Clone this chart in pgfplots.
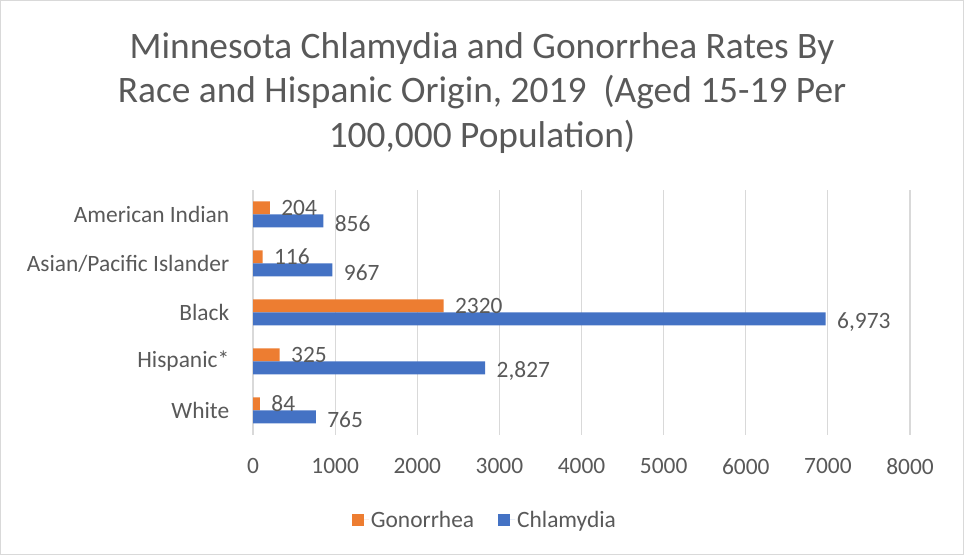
\documentclass[border=0pt]{standalone}
\usepackage{pgfplots}
\pgfplotsset{compat=1.18}
\usepackage{fontspec}
\setmainfont{Carlito}
\definecolor{txt}{HTML}{595959}
\definecolor{gon}{HTML}{ED7D31}
\definecolor{chl}{HTML}{4472C4}
\definecolor{grd}{HTML}{D9D9D9}
\begin{document}
\begin{tikzpicture}[x=1bp,y=1bp]
\path[use as bounding box] (0,0) rectangle (964,555);
\draw[grd, line width=1bp] (0.5,0.5) rectangle (963.5,554.5);
\node[text=txt, align=center, font=\fontsize{37.5}{45}\selectfont] at (482,462) {Minnesota Chlamydia and Gonorrhea Rates By\\Race and Hispanic Origin, 2019~ (Aged 15-19 Per\\100,000 Population)};
\begin{axis}[
  at={(253bp,120bp)}, anchor=south west,
  scale only axis, width=657bp, height=245bp,
  xbar, bar width=13bp,
  xmin=0, xmax=8000, ymin=-0.5, ymax=4.5,
  xtick={0,1000,...,8000},
  ytick={0,1,2,3,4},
  yticklabels={White,Hispanic*,Black,Asian/Pacific Islander,American Indian},
  xmajorgrids, grid style={grd, line width=1.2bp},
  axis line style={draw=none},
  tick style={draw=none},
  ticklabel style={text=txt, font=\fontsize{23.5}{28}\selectfont},
  xticklabel style={yshift=-20bp},
  yticklabel style={xshift=-16bp},
  /pgf/number format/assume math mode=true,
  scaled x ticks=false,
  x tick label style={/pgf/number format/1000 sep={}},
  point meta=explicit symbolic,
  nodes near coords,
  every node near coord/.append style={text=txt, font=\fontsize{23.5}{28}\selectfont, anchor=west, xshift=8bp},
  legend style={at={(0.353,-85bp)}, anchor=center, draw=none, legend columns=2, font=\fontsize{23.5}{28}\selectfont, text=txt,
     /tikz/every even column/.append style={column sep=22bp}},
  legend cell align=left,
  legend image code/.code={\fill[#1] (0bp,-6bp) rectangle (12bp,6bp); \path (0bp,0bp) -- (17bp,0bp);},
  clip=false,
]
\addplot[fill=gon, draw=none, bar shift=6.5bp] table[meta=l] {
x y l
84 0 84
325 1 325
2320 2 2320
116 3 116
204 4 204
};
\addlegendentry{Gonorrhea}
\addplot[fill=chl, draw=none, bar shift=-6.5bp, every node near coord/.append style={yshift=-3bp}] table[meta=l] {
x y l
765 0 765
2827 1 {2,827}
6973 2 {6,973}
967 3 967
856 4 856
};
\addlegendentry{Chlamydia}
\end{axis}
\end{tikzpicture}
\end{document}
